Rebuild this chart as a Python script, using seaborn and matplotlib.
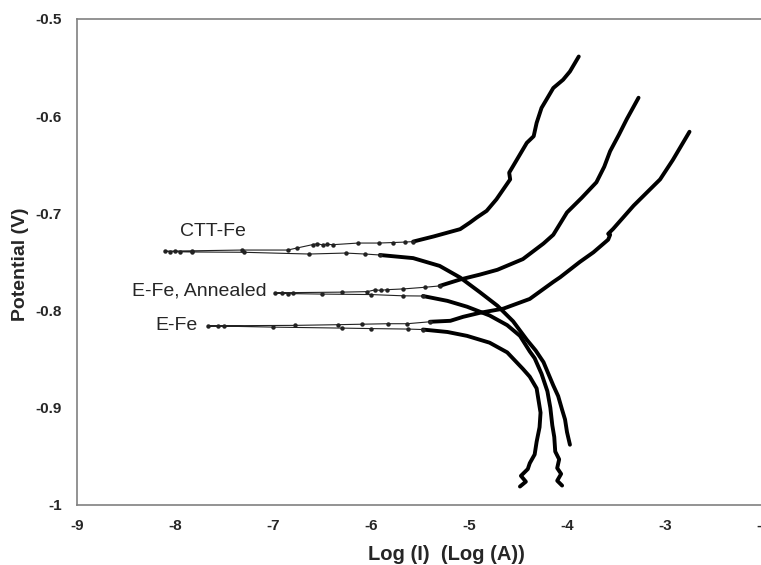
import pandas as pd
import matplotlib
matplotlib.use('Agg')
import matplotlib.pyplot as plt
import seaborn as sns

# --- data: log(I) vs potential ---
# CTT-Fe
ctt_cath_x = [-3.97, -4.00, -4.02, -4.05, -4.09, -4.14, -4.24, -4.32, -4.41, -4.55, -4.71, -4.89, -5.09, -5.30, -5.57, -5.91]
ctt_cath_y = [-0.938, -0.925, -0.912, -0.902, -0.888, -0.877, -0.853, -0.841, -0.830, -0.811, -0.795, -0.781, -0.766, -0.754, -0.746, -0.7428]
ctt_ecorr_x = [-5.91, -6.06, -6.26, -6.63, -7.30, -7.83, -7.95, -8.05, -8.10, -8.00, -7.83, -7.32, -6.85, -6.76, -6.59,
               -6.55, -6.49, -6.45, -6.39, -6.13, -5.92, -5.78, -5.65, -5.57]
ctt_ecorr_y = [-0.7428, -0.7418, -0.7408, -0.7418, -0.7400, -0.7397, -0.7395, -0.7392, -0.7390, -0.7387, -0.7385, -0.7377,
               -0.7377, -0.7357, -0.7320, -0.7312, -0.7325, -0.7318, -0.7322, -0.7305, -0.7305, -0.7300, -0.7295, -0.7290]
ctt_anod_x = [-5.57, -5.36, -5.09, -4.99, -4.92, -4.82, -4.72, -4.58, -4.59, -4.55, -4.41, -4.34, -4.31, -4.26, -4.21, -4.14, -4.04, -3.97, -3.88]
ctt_anod_y = [-0.7290, -0.7237, -0.7162, -0.7094, -0.7042, -0.6974, -0.6855, -0.6650, -0.6581, -0.6513, -0.6274, -0.6206,
              -0.6069, -0.5915, -0.5830, -0.5710, -0.5625, -0.5540, -0.5386]

# E-Fe, Annealed
ann_cath_x = [-4.05, -4.10, -4.06, -4.10, -4.08, -4.12, -4.13, -4.15, -4.17, -4.20, -4.26, -4.33, -4.38, -4.48, -4.61, -4.79, -5.02, -5.22, -5.47]
ann_cath_y = [-0.980, -0.975, -0.968, -0.962, -0.953, -0.945, -0.930, -0.918, -0.900, -0.883, -0.865, -0.849, -0.842, -0.826,
              -0.815, -0.805, -0.796, -0.790, -0.785]
ann_ecorr_x = [-5.47, -5.67, -6.00, -6.50, -6.85, -6.98, -6.91, -6.80, -6.30, -6.04, -5.96, -5.90, -5.84, -5.67, -5.45, -5.30]
ann_ecorr_y = [-0.7850, -0.7848, -0.7835, -0.7830, -0.7825, -0.7820, -0.7815, -0.7815, -0.7810, -0.7805, -0.7787, -0.7792,
               -0.7785, -0.7777, -0.7760, -0.7746]
ann_anod_x = [-5.30, -5.09, -4.89, -4.71, -4.45, -4.24, -4.14, -4.00, -3.85, -3.70, -3.62, -3.56, -3.47, -3.39, -3.27]
ann_anod_y = [-0.7746, -0.768, -0.763, -0.758, -0.747, -0.731, -0.722, -0.699, -0.684, -0.668, -0.652, -0.636, -0.619, -0.603, -0.581]

# E-Fe
efe_cath_x = [-4.48, -4.42, -4.47, -4.40, -4.38, -4.33, -4.31, -4.28, -4.27, -4.31, -4.38, -4.45, -4.61, -4.79, -5.02, -5.22, -5.47]
efe_cath_y = [-0.981, -0.976, -0.970, -0.963, -0.957, -0.948, -0.935, -0.920, -0.905, -0.880, -0.868, -0.860, -0.843, -0.833,
              -0.826, -0.822, -0.8195]
efe_ecorr_x = [-5.47, -5.62, -6.00, -6.30, -7.00, -7.50, -7.66, -7.56, -6.78, -6.34, -6.09, -5.83, -5.63, -5.40]
efe_ecorr_y = [-0.8195, -0.8190, -0.8185, -0.8180, -0.8170, -0.8160, -0.8158, -0.8156, -0.8152, -0.8145, -0.8140, -0.8135,
               -0.8135, -0.8115]
efe_anod_x = [-5.40, -5.19, -5.06, -4.89, -4.65, -4.38, -4.14, -4.07, -3.87, -3.73, -3.58, -3.56, -3.58, -3.53, -3.32, -3.05, -2.92, -2.75]
efe_anod_y = [-0.8115, -0.8105, -0.8064, -0.8023, -0.798, -0.788, -0.7705, -0.7657, -0.750, -0.740, -0.727, -0.722, -0.721,
              -0.716, -0.692, -0.665, -0.645, -0.616]

labels = ['CTT-Fe', 'E-Fe, Annealed', 'E-Fe']
x_ticks = [-9, -8, -7, -6, -5, -4, -3, -2]
x_tick_labels = ['-9', '-8', '-7', '-6', '-5', '-4', '-3', '-2']
y_ticks = [-1.0, -0.9, -0.8, -0.7, -0.6, -0.5]
y_tick_labels = ['-1', '-0.9', '-0.8', '-0.7', '-0.6', '-0.5']

sns.set_style('white')
plt.rcParams['font.family'] = ['Liberation Sans', 'DejaVu Sans']

fig = plt.figure(figsize=(7.61, 5.65), dpi=100)
ax = fig.add_axes([77 / 761, 60 / 565, 686 / 761, 486 / 565])

branches = [(ctt_cath_x, ctt_cath_y), (ctt_anod_x, ctt_anod_y),
            (ann_cath_x, ann_cath_y), (ann_anod_x, ann_anod_y),
            (efe_cath_x, efe_cath_y), (efe_anod_x, efe_anod_y)]
loops = [(ctt_ecorr_x, ctt_ecorr_y), (ann_ecorr_x, ann_ecorr_y), (efe_ecorr_x, efe_ecorr_y)]

for bx, by in branches:
    sns.lineplot(x=bx, y=by, sort=False, estimator=None, color='black', lw=2.8, ax=ax)
for lx, ly in loops:
    sns.lineplot(x=lx, y=ly, sort=False, estimator=None, color='#222222', lw=0.8,
                 marker='o', markersize=3.2, markeredgewidth=0, ax=ax)

ax.text(-7.95, -0.7182, labels[0], ha='left', va='center', fontsize=14)
ax.text(-7.06, -0.7800, labels[1], ha='right', va='center', fontsize=14)
ax.text(-7.77, -0.8156, labels[2], ha='right', va='center', fontsize=14)

ax.set_xlim(-9, -2)
ax.set_ylim(-1, -0.5)
ax.set_xticks(x_ticks)
ax.set_xticklabels(x_tick_labels, fontsize=11, fontweight='bold')
ax.set_yticks(y_ticks)
ax.set_yticklabels(y_tick_labels, fontsize=11, fontweight='bold')
ax.tick_params(axis='x', direction='inout', length=6, width=1, color='#808080', pad=7)
ax.tick_params(axis='y', direction='out', length=4, width=1, color='#808080', pad=7)
for s in ax.spines.values():
    s.set_color('#808080')
    s.set_linewidth(1.2)

fig.text(446 / 761, 1 - 555 / 565, 'Log (I)  (Log (A))', ha='center', va='center', fontsize=14.5, fontweight='bold')
fig.text(21 / 761, 1 - 264 / 565, 'Potential (V)', ha='center', va='center', rotation=90, fontsize=14, fontweight='bold')

fig.savefig('out.png', dpi=100)
